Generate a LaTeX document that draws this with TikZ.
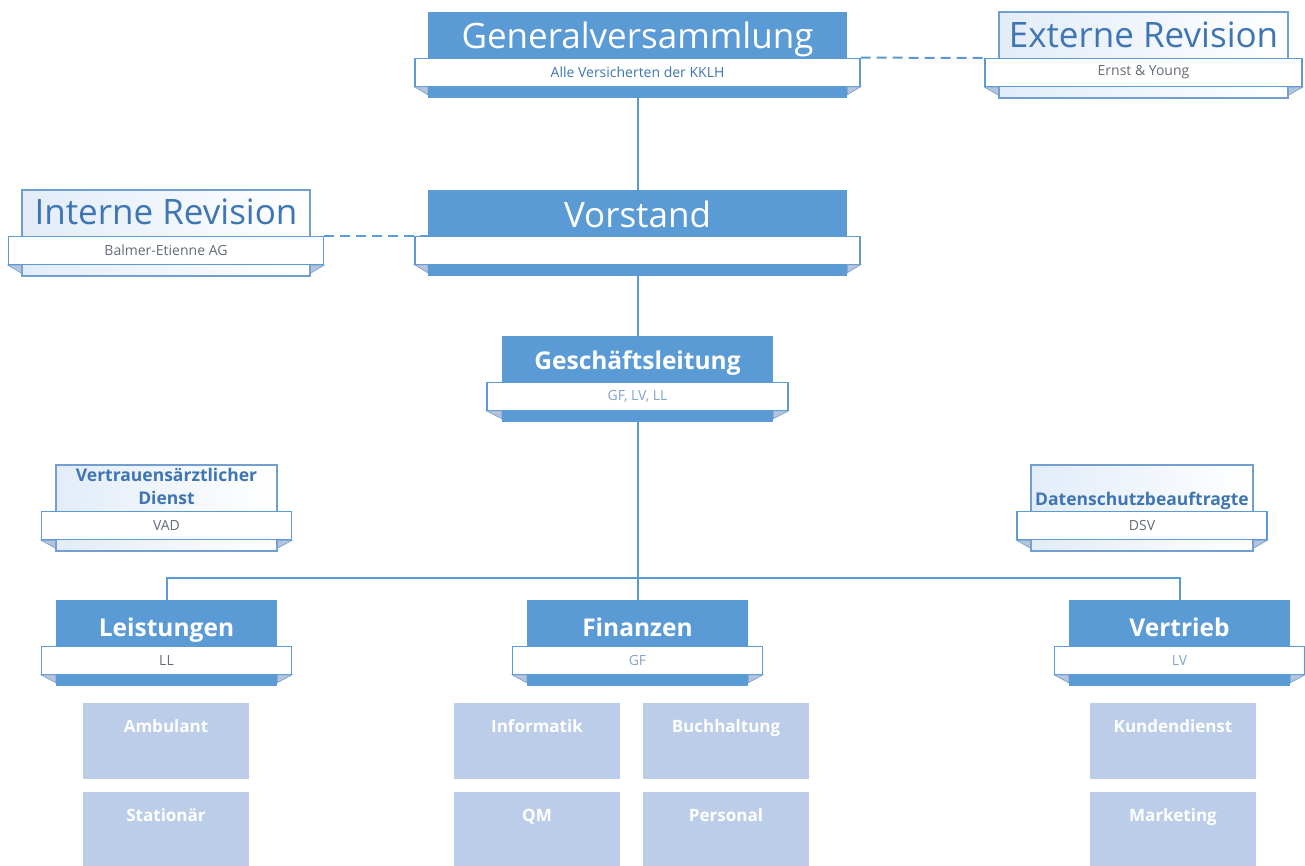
\documentclass[tikz,border=0pt]{standalone}
\usepackage{fontspec}
\setmainfont{Open Sans}
\usetikzlibrary{positioning}
\definecolor{orgblue}{RGB}{91,155,213}
\definecolor{lightunit}{RGB}{187,205,232}
\definecolor{stafftext}{RGB}{62,117,178}
\definecolor{staffline}{RGB}{115,158,208}
\definecolor{staffshade}{RGB}{226,236,248}
\definecolor{foldblue}{RGB}{180,196,218}
\definecolor{subgray}{RGB}{100,108,120}
\definecolor{sublight}{RGB}{130,165,205}

\begin{document}
\begin{tikzpicture}[x=1pt, y=-1pt,
    mainbox/.style={fill=orgblue, minimum height=86pt, inner sep=0pt},
    staffbox/.style={draw=staffline, line width=1.2pt, left color=staffshade, right color=white, minimum height=86pt, inner sep=0pt},
    band/.style={draw=orgblue, line width=1.2pt, fill=white, minimum height=28pt, inner sep=0pt, font=\fontsize{14}{16}\selectfont, text=subgray},
    bigtitle/.style={font=\fontsize{35}{40}\selectfont, inner sep=0pt, text depth=0pt},
    boldtitle/.style={font=\fontsize{24.5}{28}\selectfont\bfseries, text=white, inner sep=0pt, text depth=0pt},
    stafftitle/.style={font=\fontsize{17.5}{23}\selectfont\bfseries, text=stafftext, align=center, inner sep=0pt, text depth=0pt},
    unitbox/.style={fill=lightunit, minimum width=166pt, minimum height=76pt, text=white, font=\fontsize{17}{20}\selectfont\bfseries, text height=12pt, text depth=30pt, inner sep=0pt},
    conn/.style={draw=orgblue, line width=2pt},
    dashconn/.style={conn, dash pattern=on 10pt off 6pt},
    fold/.style={fill=foldblue, draw=staffline, line width=0.6pt}
]
    \useasboundingbox (0,0) rectangle (1305,866);

    % Generalversammlung
    \node[mainbox, minimum width=419pt] (gv) at (637.5,55) {};
    \node[band, minimum width=445pt, text=stafftext] (gvsub) at ([yshift=26pt]gv.south) {Alle Versicherten der KKLH};
    \node[bigtitle, text=white, above=9pt of gvsub] (gvtitle) {Generalversammlung};

    % Externe Revision
    \node[staffbox, minimum width=289pt] (ex) at (1143.5,55) {};
    \node[band, minimum width=317pt] (exsub) at ([yshift=26pt]ex.south) {Ernst \& Young};
    \node[bigtitle, text=stafftext, above=10pt of exsub] (extitle) {Externe Revision};

    % Vorstand
    \node[mainbox, minimum width=419pt] (vs) at (637.5,233) {};
    \node[band, minimum width=445pt] (vssub) at ([yshift=26pt]vs.south) {};
    \node[bigtitle, text=white, above=8pt of vssub] (vstitle) {Vorstand};

    % Interne Revision
    \node[staffbox, minimum width=288pt] (ir) at (166,233) {};
    \node[band, minimum width=315pt] (irsub) at ([yshift=26pt]ir.south) {Balmer-Etienne AG};
    \node[bigtitle, text=stafftext, above=11pt of irsub] (irtitle) {Interne Revision};

    % Geschaeftsleitung
    \node[mainbox, minimum width=271pt] (gl) at (637.5,379) {};
    \node[band, minimum width=301pt, text=sublight] (glsub) at ([yshift=26pt]gl.south) {GF, LV, LL};
    \node[boldtitle, above=12pt of glsub] (gltitle) {Geschäftsleitung};

    % Stabsstellen
    \node[staffbox, minimum width=221pt] (vad) at (166.5,508) {};
    \node[band, minimum width=250pt] (vadsub) at ([yshift=26pt]vad.south) {VAD};
    \node[stafftitle, above=6pt of vadsub] (vadtitle) {Vertrauensärztlicher\\Dienst};

    \node[staffbox, minimum width=222pt] (ds) at (1142,508) {};
    \node[band, minimum width=250pt] (dssub) at ([yshift=26pt]ds.south) {DSV};
    \node[stafftitle, above=5pt of dssub] (dstitle) {Datenschutzbeauftragte};

    % Bereiche
    \node[mainbox, minimum width=221pt] (ls) at (166.5,643) {};
    \node[band, minimum width=250pt] (lssub) at ([yshift=26pt]ls.south) {LL};
    \node[boldtitle, above=9pt of lssub] (lstitle) {Leistungen};

    \node[mainbox, minimum width=221pt] (fin) at (637.5,643) {};
    \node[band, minimum width=250pt, text=sublight] (finsub) at ([yshift=26pt]fin.south) {GF};
    \node[boldtitle, above=9pt of finsub] (fintitle) {Finanzen};

    \node[mainbox, minimum width=221pt] (vt) at (1179.5,643) {};
    \node[band, minimum width=250pt, text=sublight] (vtsub) at ([yshift=26pt]vt.south) {LV};
    \node[boldtitle, above=9pt of vtsub] (vttitle) {Vertrieb};

    % ribbon folds
    \foreach \m/\b in {gv/gvsub, ex/exsub, vs/vssub, ir/irsub, gl/glsub, vad/vadsub, ds/dssub, ls/lssub, fin/finsub, vt/vtsub} {
        \filldraw[fold] (\b.south west) -- (\m.west |- \b.south) -- ++(0,8) -- cycle;
        \filldraw[fold] (\b.south east) -- (\m.east |- \b.south) -- ++(0,8) -- cycle;
    }

    % Abteilungen
    \node[unitbox] (amb) at (166,741) {Ambulant};
    \node[unitbox] (stat) at (166,830) {Stationär};
    \node[unitbox] (inf) at (537,741) {Informatik};
    \node[unitbox] (buch) at (726,741) {Buchhaltung};
    \node[unitbox] (qm) at (537,830) {QM};
    \node[unitbox] (pers) at (726,830) {Personal};
    \node[unitbox] (kd) at (1173,741) {Kundendienst};
    \node[unitbox] (mkt) at (1173,830) {Marketing};

    % Linien
    \coordinate (bus) at (637.5,578);
    \draw[conn] (gv.south) -- (vs.north);
    \draw[conn] (vs.south) -- (gl.north);
    \draw[conn] (gl.south) -- (bus);
    \draw[conn] (ls.north) |- (bus) -| (vt.north);
    \draw[conn] (bus) -- (fin.north);
    \draw[dashconn] (gvsub.north east) -- (exsub.north west);
    \draw[dashconn] (irsub.north east) -- (vs.west |- irsub.north east);

\end{tikzpicture}
\end{document}
